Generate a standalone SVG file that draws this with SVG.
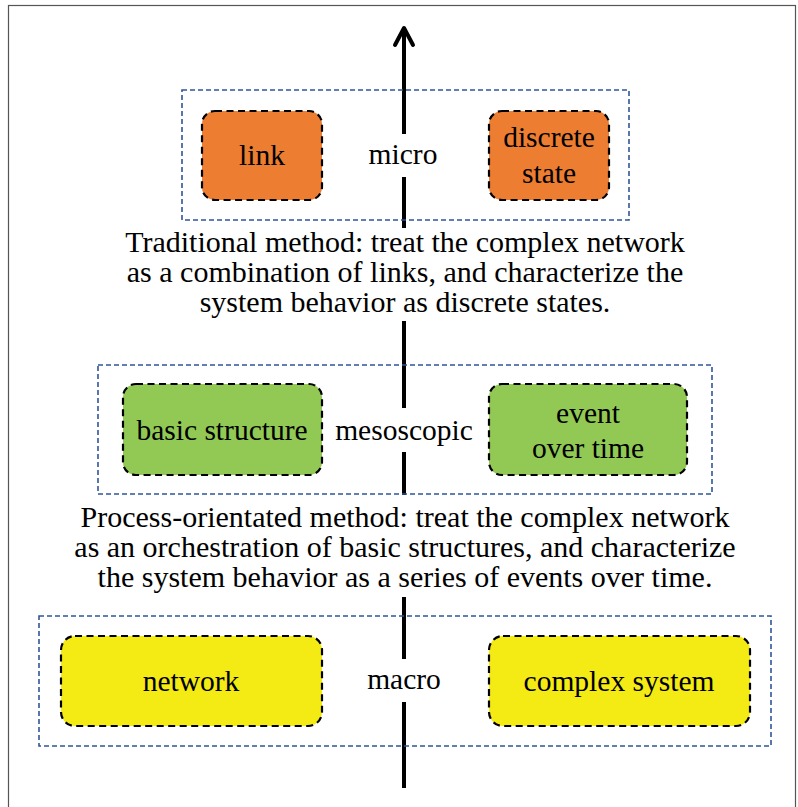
<svg xmlns="http://www.w3.org/2000/svg" width="798" height="807" viewBox="0 0 798 807">
<style>
text{font-family:"Liberation Serif","Times New Roman",serif;fill:#000;text-anchor:middle}
.lbl{font-size:29.5px}
.para{font-size:30px}
.group{fill:none;stroke:#2F5597;stroke-width:1.6;stroke-dasharray:5 3}
.node{stroke:#000;stroke-width:2.2;stroke-dasharray:7 4.5}
.orange{fill:#ED7D31}
.green{fill:#92C955}
.yellow{fill:#F5EB14}
.axis{stroke:#000;stroke-width:4;fill:none}
</style>
<rect x="0" y="0" width="798" height="807" fill="#fff"/>
<rect x="8.5" y="5.5" width="787" height="810" fill="none" stroke="#555" stroke-width="1.2"/>

<g id="connectors">
<path class="axis" d="M404 29V134M404 177V228M404 321V408M404 452V495M404 597V659M404 702V788"/>
<path class="axis" d="M395 45L404 28L413 45" stroke-linecap="round" stroke-linejoin="round"/>
</g>

<g id="micro-level">
<rect class="group" x="182" y="90" width="447" height="130"/>
<text class="lbl" x="403" y="164">micro</text>
</g>
<g id="link">
<rect class="node orange" x="202" y="111" width="120" height="89" rx="13"/>
<text class="lbl" x="262" y="165">link</text>
</g>
<g id="discrete-state">
<rect class="node orange" x="489" y="111" width="120" height="89" rx="13"/>
<text class="lbl" x="549" y="147">discrete</text>
<text class="lbl" x="549" y="183">state</text>
</g>
<g id="traditional-text">
<text class="para" x="405" y="252">Traditional method: treat the complex network</text>
<text class="para" x="405" y="282">as a combination of links, and characterize the</text>
<text class="para" x="405" y="312">system behavior as discrete states.</text>
</g>

<g id="meso-level">
<rect class="group" x="98" y="365" width="614" height="129"/>
<text class="lbl" x="404" y="440">mesoscopic</text>
</g>
<g id="basic-structure">
<rect class="node green" x="123" y="384" width="199" height="91" rx="13"/>
<text class="lbl" x="222" y="440">basic structure</text>
</g>
<g id="event-over-time">
<rect class="node green" x="489" y="384" width="198" height="91" rx="13"/>
<text class="lbl" x="588" y="423">event</text>
<text class="lbl" x="588" y="458">over time</text>
</g>
<g id="process-text">
<text class="para" x="405" y="527">Process-orientated method: treat the complex network</text>
<text class="para" x="405" y="557">as an orchestration of basic structures, and characterize</text>
<text class="para" x="405" y="587">the system behavior as a series of events over time.</text>
</g>

<g id="macro-level">
<rect class="group" x="39" y="616" width="732" height="130"/>
<text class="lbl" x="404" y="689">macro</text>
</g>
<g id="network">
<rect class="node yellow" x="61" y="636" width="261" height="90" rx="14"/>
<text class="lbl" x="191" y="691">network</text>
</g>
<g id="complex-system">
<rect class="node yellow" x="489" y="636" width="261" height="90" rx="14"/>
<text class="lbl" x="619" y="691">complex system</text>
</g>
</svg>
